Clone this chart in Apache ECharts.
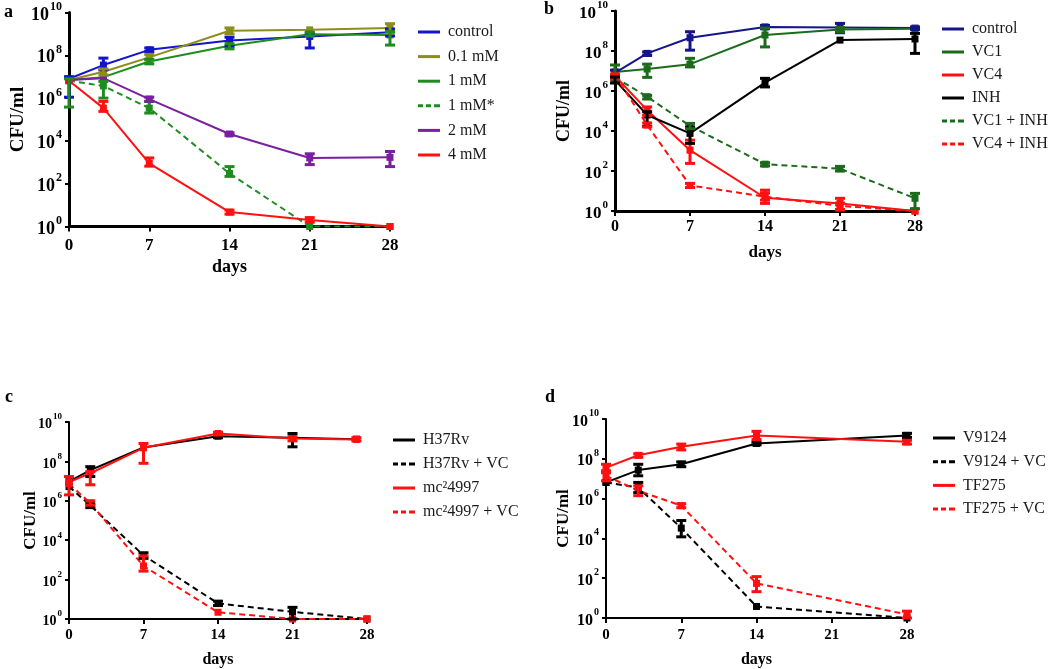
<!DOCTYPE html>
<html><head><meta charset="utf-8">
<script src="https://cdn.jsdelivr.net/npm/echarts@6/dist/echarts.min.js"></script>
<style>html,body{margin:0;padding:0;background:#fff}#c{width:1050px;height:669px}</style>
</head><body><div id="c"></div>
<script>
// ---------- DATA ----------
const daysA = [0, 3, 7, 14, 21, 28];
const aControl = [8e6, 3.5e7, 1.8e8, 4.9e8, 7.6e8, 1.2e9];
const aControlErr = [[1.1e6, 1.0e7], [2.1e7, 7.4e7], [1.5e8, 2.2e8], [2.6e8, 7e8], [2.2e8, 1.1e9], [8e8, 1.7e9]];
const a01 = [7e6, 1.7e7, 8e7, 1.4e9, 1.55e9, 1.9e9];
const a01Err = [null, [1.2e7, 2.3e7], [6e7, 1.1e8], [1e9, 1.9e9], null, [1.1e9, 3e9]];
const a1 = [7e6, 9.5e6, 5.1e7, 2.8e8, 9.7e8, 9e8];
const a1Err = [[3.8e5, 8e6], null, [4e7, 6.5e7], [2e8, 3.5e8], [8e8, 1.2e9], [3e8, 1.3e9]];
const a1s = [6.5e6, 3.7e6, 3.4e5, 3e2, 1, 1];
const a1sErr = [null, [1e6, 6e6], [2e5, 7e5], [2.2e2, 6.3e2], null, null];
const a2 = [7e6, 8.5e6, 9e5, 2.1e4, 1.6e3, 1.7e3];
const a2Err = [null, null, [7e5, 1.1e6], [1.8e4, 2.4e4], [7.8e2, 2.5e3], [6.3e2, 3.2e3]];
const a4 = [6.5e6, 3.4e5, 9e2, 4.7, 2, 1];
const a4Err = [null, [2.4e5, 7e5], [6.6e2, 1.6e3], [3.8, 5.8], [1.6, 2.6], null];

const daysB = [0, 3, 7, 14, 21, 28];
const bControl = [8e6, 7.6e7, 4.6e8, 1.6e9, 1.5e9, 1.4e9];
const bControlErr = [[5e6, 1.1e7], [6e7, 9e7], [1.1e8, 9.2e8], [1.3e9, 1.9e9], [8.2e8, 2.4e9], [1.2e9, 1.6e9]];
const bVC1 = [9e6, 1.25e7, 2.2e7, 6.3e8, 1.2e9, 1.3e9];
const bVC1Err = [[3.5e6, 2e7], [4.8e6, 2.2e7], [1.6e7, 4.3e7], [1.6e8, 1.4e9], [9e8, 1.5e9], null];
const bVC4 = [5.6e6, 1.1e5, 1.1e3, 4.6, 2.4, 1];
const bVC4Err = [[4e6, 7e6], [6e4, 1.6e5], [2.4e2, 3.5e3], [2.4, 11], [1.1, 4.3], null];
const bINH = [3.5e6, 6.3e4, 7.6e3, 2.6e6, 3.5e8, 4e8];
const bINHErr = [[2.5e6, 5e6], [1.7e4, 9.2e4], [2.4e3, 1.6e4], [1.6e6, 4.3e6], null, [7.6e7, 7.6e8]];
const bVC1INH = [4.8e6, 5.2e5, 1.8e4, 2.2e2, 1.3e2, 4.3];
const bVC1INHErr = [null, [4e5, 6e5], [1.3e4, 2.4e4], [1.8e2, 2.6e2], [1e2, 1.7e2], [1.3, 7.6]];
const bVC4INH = [6.3e6, 2e4, 19, 5.2, 1.8, 1];
const bVC4INHErr = [null, [1.6e4, 2.5e4], [15, 24], [3.5, 8], [1.2, 2.5], null];

const daysC1 = [0, 2, 7, 14, 21, 27];
const daysC2 = [0, 2, 7, 14, 21, 28];
const cH37 = [9.4e6, 3.6e7, 5.1e8, 1.9e9, 1.6e9, 1.35e9];
const cH37Err = [null, [1.7e7, 5.4e7], null, [1.6e9, 2.2e9], [5.5e8, 2.6e9], null];
const cMc = [9e6, 2.5e7, 4.9e8, 2.6e9, 1.45e9, 1.3e9];
const cMcErr = [[2e6, 1.7e7], [6.5e6, 3e7], [8e7, 8.1e8], [2.2e9, 3e9], [1.1e9, 1.8e9], [1.1e9, 1.6e9]];
const cH37VC = [5.3e6, 5.8e5, 1.7e3, 6.2, 2.3, 1];
const cH37VCErr = [null, [4.5e5, 7e5], [1.2e3, 2.3e3], [4.8, 8], [1, 3.9], null];
const cMcVC = [7.2e6, 7.6e5, 4.9e2, 2.2, 1, 1];
const cMcVCErr = [null, [6e5, 1e6], [2.7e2, 1.6e3], null, null, null];

const daysD = [0, 3, 7, 14, 28];
const dV = [6.5e6, 2.7e7, 5.3e7, 5.9e8, 1.5e9];
const dVErr = [null, [1.4e7, 5.3e7], [4e7, 7e7], [5e8, 7e8], [1.2e9, 1.9e9]];
const dT = [3.6e7, 1.5e8, 4e8, 1.5e9, 7.1e8];
const dTErr = [[2e7, 5.3e7], [1.2e8, 1.8e8], [2.8e8, 5.5e8], [9.3e8, 2.4e9], [5.5e8, 8.5e8]];
const dVVC = [6.5e6, 3.6e6, 3.3e4, 3.8, 1];
const dVVCErr = [null, [2e6, 6.5e6], [1.2e4, 7.9e4], null, null];
const dTVC = [1.4e7, 2.5e6, 4.4e5, 55, 1.5];
const dTVCErr = [[7.8e6, 2.5e7], [1.4e6, 4.4e6], [3.5e5, 5.5e5], [21, 120], [1, 2.2]];

const xTicks = [0, 7, 14, 21, 28];
const yExponents = [0, 2, 4, 6, 8, 10];   // tick labels 10^0 ... 10^10

// ---------- BUILD ----------
const SERIF = 'Liberation Serif';
const SOLID_ICON = 'path://M0,0h22v3h-22z';
const DASH_ICON = 'path://M0,0h5v3h-5z M8,0h5v3h-5z M16,0h6v3h-6z';
const lg = v => Math.log10(v);   // y axis is in decades (log10 of CFU/ml)

const panels = [
  { grid: {left: 69, top: 12.5, width: 321, height: 214}, fs: 17, yfs: 18, sup: 12, axisW: 3, nameGapY: 41, nameGapX: 32, marginX: 11,
    legend: {left: 413, top: 18, gap: 6.6},
    series: [
      {name: 'control', color: '#1414cc', x: daysA, y: aControl, err: aControlErr},
      {name: '0.1 mM', color: '#8d8d1c', x: daysA, y: a01, err: a01Err},
      {name: '1 mM', color: '#1e8c1e', x: daysA, y: a1, err: a1Err},
      {name: '1 mM*', color: '#1e8c1e', dashed: true, x: daysA, y: a1s, err: a1sErr},
      {name: '2 mM', color: '#7a1fa0', x: daysA, y: a2, err: a2Err},
      {name: '4 mM', color: '#ff1010', x: daysA, y: a4, err: a4Err}
    ]},
  { grid: {left: 615, top: 11, width: 300, height: 200}, fs: 16, yfs: 17, sup: 11, axisW: 3, nameGapY: 42, nameGapX: 33, marginX: 8,
    legend: {left: 937, top: 15, gap: 5},
    series: [
      {name: 'control ', color: '#14148c', x: daysB, y: bControl, err: bControlErr},
      {name: 'VC1', color: '#1c6b1c', x: daysB, y: bVC1, err: bVC1Err},
      {name: 'VC4', color: '#ff1010', x: daysB, y: bVC4, err: bVC4Err},
      {name: 'INH', color: '#000000', x: daysB, y: bINH, err: bINHErr},
      {name: 'VC1 + INH', color: '#1c6b1c', dashed: true, x: daysB, y: bVC1INH, err: bVC1INHErr},
      {name: 'VC4 + INH', color: '#ff1010', dashed: true, x: daysB, y: bVC4INH, err: bVC4INHErr}
    ]},
  { grid: {left: 69, top: 422, width: 298, height: 198}, fs: 15, yfs: 14, sup: 9, axisW: 2, nameGapY: 30, nameGapX: 33, marginX: 9,
    legend: {left: 388, top: 426, gap: 6},
    series: [
      {name: 'H37Rv', color: '#000000', x: daysC1, y: cH37, err: cH37Err},
      {name: 'H37Rv + VC', color: '#000000', dashed: true, x: daysC2, y: cH37VC, err: cH37VCErr},
      {name: 'mc²4997', color: '#ff1010', x: daysC1, y: cMc, err: cMcErr},
      {name: 'mc²4997 + VC', color: '#ff1010', dashed: true, x: daysC2, y: cMcVC, err: cMcVCErr}
    ]},
  { grid: {left: 606, top: 419, width: 301, height: 201}, fs: 15, yfs: 16, sup: 10, axisW: 2, nameGapY: 34, nameGapX: 34, marginX: 10,
    legend: {left: 928, top: 424, gap: 5.7},
    series: [
      {name: 'V9124', color: '#000000', x: daysD, y: dV, err: dVErr},
      {name: 'V9124 + VC', color: '#000000', dashed: true, x: daysD, y: dVVC, err: dVVCErr},
      {name: 'TF275', color: '#ff1010', x: daysD, y: dT, err: dTErr},
      {name: 'TF275 + VC', color: '#ff1010', dashed: true, x: daysD, y: dTVC, err: dTVCErr}
    ]}
];

const grid = [], xAxis = [], yAxis = [], series = [], legend = [];
panels.forEach((p, i) => {
  grid.push(Object.assign({containLabel: false}, p.grid));
  xAxis.push({
    gridIndex: i, type: 'value', min: 0, max: 28, interval: 7,
    name: 'days', nameLocation: 'middle', nameGap: p.nameGapX, nameMoveOverlap: false,
    nameTextStyle: {fontFamily: SERIF, fontWeight: 'bold', fontSize: p.fs + 1, color: '#000'},
    axisLine: {lineStyle: {color: '#000', width: p.axisW}},
    axisTick: {show: true, length: 5, lineStyle: {color: '#000', width: 2}},
    splitLine: {show: false},
    axisLabel: {fontFamily: SERIF, fontWeight: 'bold', fontSize: p.fs, color: '#000', margin: p.marginX,
      formatter: v => xTicks.indexOf(v) >= 0 ? String(v) : ''}
  });
  yAxis.push({
    gridIndex: i, type: 'value', min: 0, max: 10, interval: 2,
    name: 'CFU/ml', nameLocation: 'middle', nameGap: p.nameGapY, nameRotate: 90, nameMoveOverlap: false,
    nameTextStyle: {fontFamily: SERIF, fontWeight: 'bold', fontSize: p.fs + 2, color: '#000'},
    axisLine: {show: true, lineStyle: {color: '#000', width: p.axisW}},
    axisTick: {show: true, length: 4, lineStyle: {color: '#000', width: 2}},
    splitLine: {show: false},
    axisLabel: {margin: 7,
      formatter: v => yExponents.indexOf(v) >= 0 ? '{b|10}{s|' + v + '}' : '',
      rich: {
        b: {fontFamily: SERIF, fontWeight: 'bold', fontSize: p.yfs, color: '#000', lineHeight: p.yfs + 5, verticalAlign: 'bottom'},
        s: {fontFamily: SERIF, fontWeight: 'bold', fontSize: p.sup, color: '#000', lineHeight: p.sup, verticalAlign: 'top', padding: [0, 0, 0, 1]}
      }}
  });
  p.series.forEach(s => {
    series.push({
      type: 'line', name: s.name, xAxisIndex: i, yAxisIndex: i,
      data: s.x.map((d, k) => [d, lg(s.y[k])]),
      symbol: 'rect', symbolSize: 7, showSymbol: true,
      lineStyle: {color: s.color, width: 2, type: s.dashed ? [6, 4] : 'solid'},
      itemStyle: {color: s.color},
      emphasis: {disabled: true}, animation: false, z: 3
    });
    const errData = [];
    s.x.forEach((d, k) => { if (s.err[k]) errData.push([d, lg(s.err[k][0]), lg(s.err[k][1])]); });
    series.push({
      type: 'custom', name: s.name + ' err', xAxisIndex: i, yAxisIndex: i,
      data: errData, encode: {x: 0, y: [1, 2]}, animation: false, z: 4, clip: false,
      renderItem: (params, api) => {
        const x = api.value(0);
        const lo = api.coord([x, api.value(1)]);
        const hi = api.coord([x, api.value(2)]);
        const w = 5;
        const st = {stroke: s.color, lineWidth: 3};
        return {type: 'group', children: [
          {type: 'line', shape: {x1: lo[0], y1: lo[1], x2: hi[0], y2: hi[1]}, style: st},
          {type: 'line', shape: {x1: lo[0] - w, y1: lo[1], x2: lo[0] + w, y2: lo[1]}, style: st},
          {type: 'line', shape: {x1: hi[0] - w, y1: hi[1], x2: hi[0] + w, y2: hi[1]}, style: st}
        ]};
      }
    });
  });
  legend.push({
    left: p.legend.left, top: p.legend.top, orient: 'vertical', itemGap: p.legend.gap,
    itemWidth: 22, itemHeight: 3, selectedMode: false,
    textStyle: {fontFamily: SERIF, fontSize: 16, color: '#1a1a1a', lineHeight: 18, padding: [0, 0, 0, 3]},
    data: p.series.map(s => ({name: s.name, icon: s.dashed ? DASH_ICON : SOLID_ICON, itemStyle: {color: s.color}}))
  });
});

const labels = [['a', 4, 3], ['b', 544, 0], ['c', 5, 388], ['d', 545, 388]];
const graphic = labels.map(l => ({type: 'text', left: l[1], top: l[2],
  style: {text: l[0], fontFamily: SERIF, fontWeight: 'bold', fontSize: 18, fill: '#000'}}));

const chart = echarts.init(document.getElementById('c'), null, {renderer: 'canvas'});
chart.setOption({animation: false, backgroundColor: '#fff', grid, xAxis, yAxis, series, legend, graphic});
</script></body></html>
